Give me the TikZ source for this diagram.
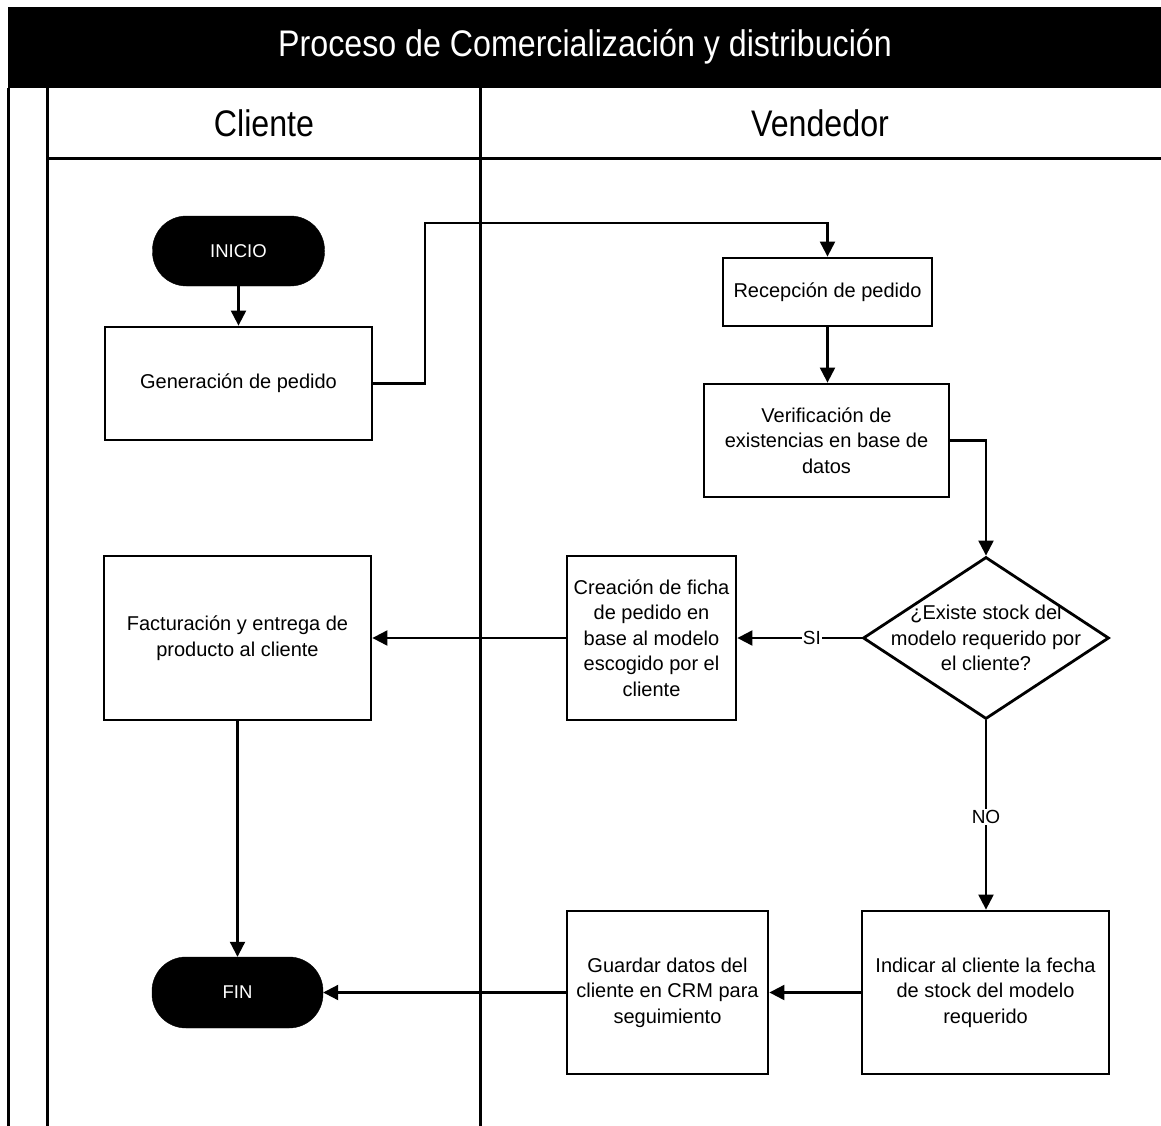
\documentclass[tikz,border=0pt]{standalone}
\usepackage{fontspec}
\setmainfont{Liberation Sans}
\newfontfamily\narrowfont[FakeStretch=0.87]{Liberation Sans}
\usetikzlibrary{arrows.meta,shapes.geometric}

\begin{document}
\begin{tikzpicture}[x=1pt,y=-1pt,
  lane/.style={line width=3pt},
  box/.style={draw, line width=2.8pt, rectangle, inner sep=0pt, align=center,
    font=\fontsize{20}{25.5}\selectfont},
  terminal/.style={fill=black, draw=black, rectangle, rounded corners=34pt,
    inner sep=0pt, text=white, font=\fontsize{18.5}{22}\selectfont},
  decision/.style={draw, line width=2.8pt, diamond, inner sep=0pt},
  flow/.style={line width=2.1pt, -{Triangle[width=15pt,length=15pt]}},
  tag/.style={fill=white, inner sep=1pt, font=\fontsize{19}{22}\selectfont},
  headtext/.style={font=\narrowfont\fontsize{37}{40}\selectfont}
]
\useasboundingbox (0,0) rectangle (1161,1126);
\fill[white] (0,0) rectangle (1161,1126);

% pool header
\fill[black] (8,7) rectangle (1161,88);
\node[headtext, text=white] (title) at (585,47) {Proceso de Comercialización y distribución};

% swimlane frame
\draw[lane] (8,88) -- (8,1126);
\draw[lane] (47,88) -- (47,1126);
\draw[lane] (480.5,88) -- (480.5,1126);
\draw[lane] (47,159) -- (1161,159);
\node[headtext] (laneC) at (264,123) {Cliente};
\node[headtext] (laneV) at (820,123) {Vendedor};

% flow nodes
\node[terminal, minimum width=172pt, minimum height=70pt] (inicio) at (238.5,251) {INICIO};
\node[box, minimum width=267pt, minimum height=113pt] (gen) at (238.5,383.5) {Generación de pedido};
\node[box, minimum width=209pt, minimum height=68pt] (rec) at (827.5,292) {Recepción de pedido};
\node[box, minimum width=245pt, minimum height=113pt] (ver) at (826.5,440.5)
  {Verificación de\\existencias en base de\\datos};
\node[decision, minimum width=246pt, minimum height=162pt] (dec) at (986,638) {};
\node[align=center, inner sep=0pt, font=\fontsize{20}{25.5}\selectfont] (dectext) at (986,638)
  {¿Existe stock del\\modelo requerido por\\el cliente?};
\node[box, minimum width=169pt, minimum height=164pt] (cre) at (651.5,638)
  {Creación de ficha\\de pedido en\\base al modelo\\escogido por el\\cliente};
\node[box, minimum width=267pt, minimum height=164pt] (fac) at (237.5,638)
  {Facturación y entrega de\\producto al cliente};
\node[box, minimum width=247pt, minimum height=163pt] (ind) at (985.5,992.5)
  {Indicar al cliente la fecha\\de stock del modelo\\requerido};
\node[box, minimum width=201pt, minimum height=163pt] (gua) at (667.5,992.5)
  {Guardar datos del\\cliente en CRM para\\seguimiento};
\node[terminal, minimum width=171pt, minimum height=71pt] (fin) at (237.5,992.5) {FIN};

% connectors
\coordinate (hop) at (425,223);
\draw[flow] (inicio.south) -- (gen.north);
\draw[flow] (gen.east) -| (hop) -| (rec.north);
\draw[flow] (rec.south) -- (rec.south |- ver.north);
\draw[flow] (ver.east) -| (dec.north);
\draw[flow] (dec.west) -- node[tag, pos=0.4] {SI} (cre.east);
\draw[flow] (cre.west) -- (fac.east);
\draw[flow] (dec.south) -- node[tag, pos=0.51] {NO} (dec.south |- ind.north);
\draw[flow] (ind.west) -- (gua.east);
\draw[flow] (gua.west) -- (fin.east);
\draw[flow] (fac.south) -- (fac.south |- fin.north);
\end{tikzpicture}
\end{document}
